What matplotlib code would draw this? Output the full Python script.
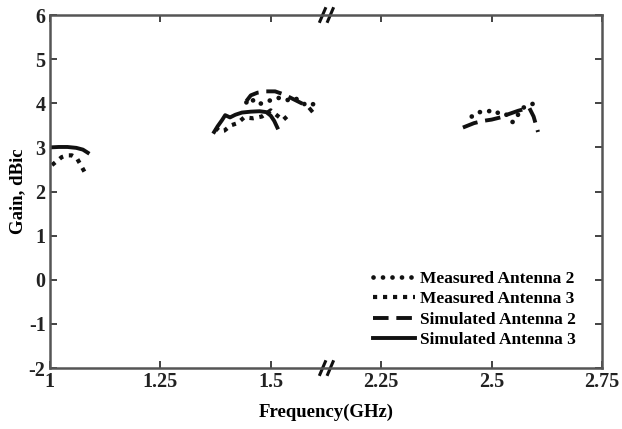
import numpy as np
import matplotlib
matplotlib.use("Agg")
import matplotlib.pyplot as plt

# ---- data ----
ma2_mid_f = [1.445, 1.455, 1.468, 1.482, 1.50, 1.51, 1.53, 1.543, 1.558, 1.575, 1.59, 1.60]
ma2_mid_g = [4.02, 4.12, 3.98, 4.00, 4.07, 4.12, 4.12, 4.05, 4.10, 3.98, 4.02, 3.95]
ma2_hi_f = [2.455, 2.47, 2.49, 2.50, 2.515, 2.53, 2.548, 2.557, 2.57, 2.585, 2.60]
ma2_hi_g = [3.70, 3.80, 3.80, 3.85, 3.78, 3.78, 3.57, 3.70, 3.89, 3.97, 4.00]

ma3_lo_f = [1.005, 1.016, 1.027, 1.038, 1.05, 1.061, 1.068, 1.079]
ma3_lo_g = [2.60, 2.69, 2.78, 2.82, 2.82, 2.76, 2.64, 2.44]
ma3_mid_f = [1.375, 1.385, 1.395, 1.41, 1.425, 1.44, 1.46, 1.48, 1.50, 1.515, 1.528, 1.54]
ma3_mid_g = [3.45, 3.36, 3.38, 3.50, 3.55, 3.68, 3.66, 3.70, 3.84, 3.72, 3.62, 3.73]

sa2_mid_f = [1.445, 1.455, 1.47, 1.49, 1.51, 1.53, 1.55, 1.57, 1.585, 1.595]
sa2_mid_g = [4.05, 4.18, 4.24, 4.27, 4.27, 4.20, 4.10, 4.00, 3.92, 3.80]
sa2_hi_f = [2.435, 2.46, 2.48, 2.50, 2.52, 2.54, 2.56, 2.585, 2.595, 2.605]
sa2_hi_g = [3.45, 3.55, 3.60, 3.63, 3.68, 3.76, 3.83, 3.90, 3.70, 3.35]

sa3_lo_f = [1.0, 1.02, 1.04, 1.06, 1.075, 1.086]
sa3_lo_g = [3.00, 3.01, 3.01, 2.99, 2.95, 2.88]
sa3_mid_f = [1.372, 1.38, 1.39, 1.397, 1.408, 1.42, 1.435, 1.455, 1.475, 1.49, 1.50, 1.508, 1.515]
sa3_mid_g = [3.35, 3.48, 3.62, 3.73, 3.68, 3.74, 3.79, 3.81, 3.82, 3.80, 3.72, 3.60, 3.45]

xticks = [1, 1.25, 1.5, 2.25, 2.5, 2.75]
xticklabels = ["1", "1.25", "1.5", "2.25", "2.5", "2.75"]
yticks = [-2, -1, 0, 1, 2, 3, 4, 5, 6]

BREAK_LO, BREAK_HI = 1.625, 2.125
GAP = BREAK_HI - BREAK_LO


def fwd(x):
    x = np.asarray(x, dtype=float)
    return np.where(x <= BREAK_LO, x, np.where(x >= BREAK_HI, x - GAP, BREAK_LO))


def inv(y):
    y = np.asarray(y, dtype=float)
    return np.where(y <= BREAK_LO, y, y + GAP)


plt.rcParams['font.family'] = ['Liberation Serif', 'DejaVu Serif']
plt.rcParams['font.weight'] = 'bold'
plt.rcParams['axes.unicode_minus'] = False

fig = plt.figure(figsize=(6.22, 4.29), dpi=100)
ax = fig.add_axes([0.080, 0.142, 0.888, 0.823])
ax.set_xscale('function', functions=(fwd, inv))

col = '#111111'
lw = 2.8
round_dot = dict(color=col, lw=3.4, linestyle=(0, (0.01, 2.0)), dash_capstyle='round')
square_dot = dict(color=col, lw=3.0, linestyle=(0, (1, 1.4)), dash_capstyle='butt')
dashed = dict(color=col, lw=lw, linestyle=(0, (4, 2)))
solid = dict(color=col, lw=lw, linestyle='-')

l1, = ax.plot(ma2_mid_f, ma2_mid_g, label='Measured Antenna 2', **round_dot)
ax.plot(ma2_hi_f, ma2_hi_g, **round_dot)
l2, = ax.plot(ma3_lo_f, ma3_lo_g, label='Measured Antenna 3', **square_dot)
ax.plot(ma3_mid_f, ma3_mid_g, **square_dot)
l3, = ax.plot(sa2_mid_f, sa2_mid_g, label='Simulated Antenna 2', **dashed)
ax.plot(sa2_hi_f, sa2_hi_g, **dashed)
l4, = ax.plot(sa3_lo_f, sa3_lo_g, label='Simulated Antenna 3', **solid)
ax.plot(sa3_mid_f, sa3_mid_g, **solid)

ax.set_xlim(1, 2.75)
ax.set_ylim(-2, 6)
ax.set_xticks(xticks)
ax.set_xticklabels(xticklabels)
ax.set_yticks(yticks)
ax.minorticks_off()
ax.tick_params(direction='in', length=5, width=1.2, top=True, right=True,
               labelsize=14.5, colors='#222222', pad=3)
for lab in ax.get_xticklabels() + ax.get_yticklabels():
    lab.set_fontweight('bold')
for s in ax.spines.values():
    s.set_linewidth(1.8)
    s.set_color('#555555')

ax.set_xlabel('Frequency(GHz)', fontsize=13.5, fontweight='bold', labelpad=8)
ax.set_ylabel('Gain, dBic', fontsize=13.5, fontweight='bold', labelpad=2)

# axis break marks
xb = (fwd(BREAK_LO) - 1) / (fwd(2.75) - 1)
for yb in (0, 1):
    for dx in (-0.006, 0.008):
        ax.plot([xb + dx - 0.006, xb + dx + 0.006], [yb - 0.022, yb + 0.022],
                transform=ax.transAxes, color='#111111', lw=2.2, clip_on=False,
                solid_capstyle='butt')

leg = ax.legend(handles=[l1, l2, l3, l4], loc='lower right', frameon=False,
                bbox_to_anchor=(0.975, 0.022), fontsize=12.5, handlelength=2.4,
                handletextpad=0.3, labelspacing=0.25, borderpad=0.2)
for t in leg.get_texts():
    t.set_fontweight('bold')

fig.savefig('out.png', dpi=100)
